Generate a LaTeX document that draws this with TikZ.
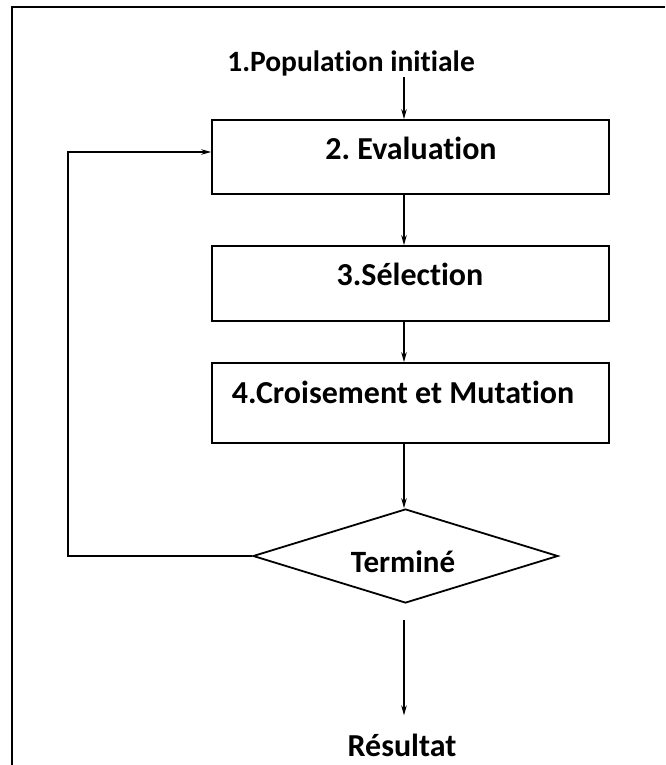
\documentclass[tikz,border=0pt]{standalone}
\usepackage{fontspec}
\setmainfont{Carlito}[Ligatures=NoCommon]
\usetikzlibrary{shapes.geometric,arrows.meta}
\frenchspacing
\begin{document}
\begin{tikzpicture}[x=1pt,y=-1pt,
  box/.style={draw, line width=1.8pt, minimum width=397pt, inner sep=0pt},
  decision/.style={draw, diamond, aspect=3.2, line width=1.8pt, inner sep=0pt,
    minimum width=305pt, minimum height=94pt},
  lbl/.style={font=\bfseries\fontsize{32}{36}\selectfont, inner sep=0pt, anchor=base},
  flow/.style={line width=1.2pt, -{Stealth[length=10pt,width=5.5pt]}}]
\useasboundingbox (0,0) rectangle (665,765);

% page frame (top and left rules)
\draw[line width=2.2pt] (12,765) -- (12,7) -- (665,7);

% axis of the vertical flow and the return path
\coordinate (ax) at (404,0);
\coordinate (fb) at (68,0);
\coordinate (loopy) at (0,152);

% steps
\node[lbl, font=\bfseries\fontsize{29.5}{34}\selectfont] (pop) at (351,72) {1.Population initiale};

\node[box, minimum height=74pt] (b2) at (410.5,157) {};
\node[lbl] (t2) at (411,159) {2. Evaluation};

\node[box, minimum height=75pt] (b3) at (410.5,283.5) {};
\node[lbl] (t3) at (410,285) {3.Sélection};

\node[box, minimum height=80pt] (b4) at (410.5,403) {};
\node[lbl] (t4) at (403,403) {4.Croisement et Mutation};

\node[decision] (term) at (405.5,556) {};
\node[lbl, font=\bfseries\fontsize{31}{35}\selectfont] (t5) at (403,572) {Terminé};

\node[lbl] (res) at (402,756) {Résultat};

% connectors
\draw[flow] (pop.south -| ax) -- (b2.north -| ax);
\draw[flow] (b2.south -| ax) -- (b3.north -| ax);
\draw[flow] (b3.south -| ax) -- (b4.north -| ax);
\draw[flow] (b4.south -| ax) -- (term.north -| ax);
\draw[flow, shorten <=16pt, shorten >=18pt] (term.south -| ax) -- (res.north -| ax);
\draw[flow] (term.west) -- (fb |- term.west) -- (fb |- loopy) -- (b2.west |- loopy);
\end{tikzpicture}
\end{document}
